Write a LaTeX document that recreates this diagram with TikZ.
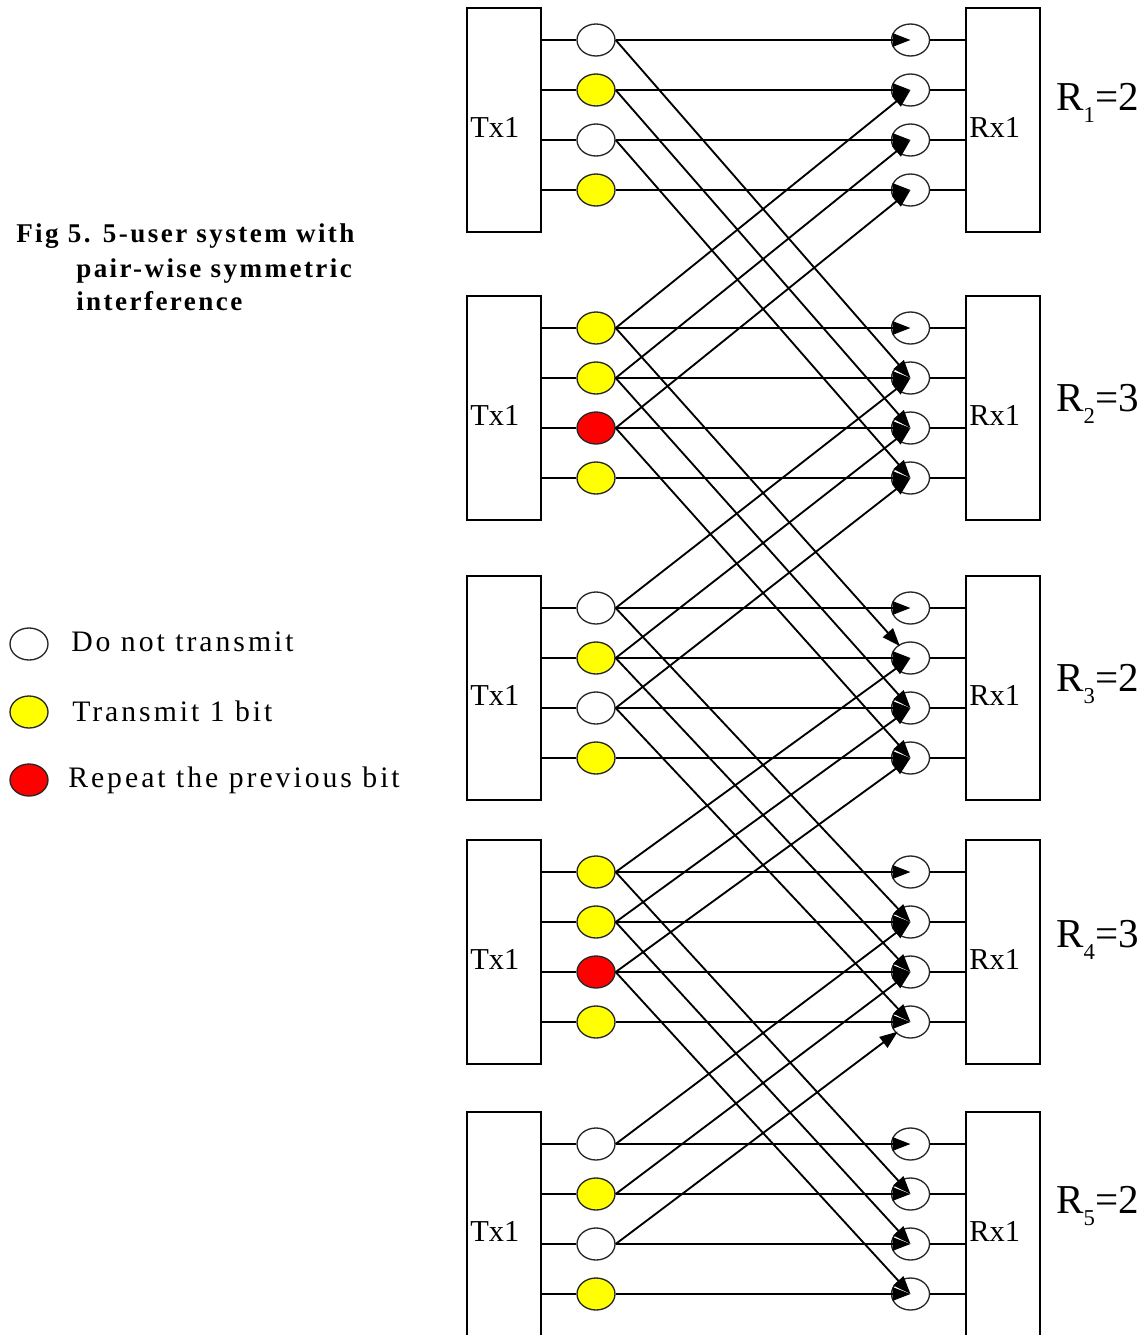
\documentclass[tikz,border=0pt]{standalone}
\usepackage{fontspec}
\setmainfont{Liberation Serif}
\newfontfamily\legfont[LetterSpace=10]{Liberation Serif}
\newfontfamily\capfont[LetterSpace=9]{Liberation Serif}
\usetikzlibrary{arrows.meta,shapes.geometric}
\definecolor{yel}{RGB}{255,255,0}
\definecolor{rd}{RGB}{255,0,0}
\tikzset{
  box/.style={draw, line width=1.5pt, minimum width=55.5pt, minimum height=168pt, inner sep=0pt},
  bit/.style={ellipse, draw=black!85, line width=1pt, minimum width=28.5pt, minimum height=24pt, inner sep=0pt},
  bitoff/.style={bit, fill=white},
  bitone/.style={bit, fill=yel},
  bitrep/.style={bit, fill=rd},
  rcv/.style={bit},
  wire/.style={line width=1.4pt},
  sig/.style={line width=1.4pt, -{Triangle[length=13.5pt,width=10pt]}},
  shortarrow/.style={shorten >=12pt},
  plainarrow/.style={},
  lbl/.style={font=\fontsize{22.8}{26}\selectfont, inner sep=0pt, anchor=base west},
  rate/.style={font=\fontsize{30.8}{33}\selectfont, inner sep=0pt, anchor=base west},
  legtext/.style={font=\legfont\fontsize{22.3}{25}\selectfont, inner sep=0pt, anchor=base west},
  captext/.style={font=\capfont\bfseries\fontsize{20.3}{23}\selectfont, inner sep=0pt, anchor=base west},
}
\begin{document}
\begin{tikzpicture}[x=0.75pt,y=-0.75pt]
\useasboundingbox (0,0) rectangle (1147,1335);
\clip (0,0) rectangle (1147,1335);
\fill[white] (0,0) rectangle (1147,1335);
% caption
\node[captext] (cap1) at (16,242) {Fig 5. 5-user system with};
\node[captext] (cap2) at (76,277) {pair-wise symmetric};
\node[captext] (cap3) at (76,310) {interference};
% legend
\node[bitoff] (lw) at (29,644) {};
\node[bitone] (ly) at (29,712) {};
\node[bitrep] (lr) at (29,780) {};
\node[legtext] (lwt) at (71,651) {Do not transmit};
\node[legtext] (lyt) at (72,721) {Transmit 1 bit};
\node[legtext] (lrt) at (68,787) {Repeat the previous bit};
% blocks
\foreach \k/\tp/\a/\b/\c/\d/\rb/\rv in {1/8/bitoff/bitone/bitoff/bitone/110/2, 2/296/bitone/bitone/bitrep/bitone/411/3, 3/576/bitoff/bitone/bitoff/bitone/691/2, 4/840/bitone/bitone/bitrep/bitone/947/3, 5/1112/bitoff/bitone/bitoff/bitone/1213/2}{
  \node[box] (tx\k) at (504,{\tp+112}) {};
  \node[box] (rx\k) at (1003,{\tp+112}) {};
  \node[lbl] (txl\k) at (470,{\tp+129}) {Tx1};
  \node[lbl] (rxl\k) at (969,{\tp+129}) {Rx1};
  \node[rate] (rate\k) at (1056,\rb) {R\raisebox{-0.3em}{\fontsize{17}{17}\selectfont\k}=\rv};
  \node[\a] (t\k1) at (596,{\tp+32}) {};
  \node[\b] (t\k2) at (596,{\tp+82}) {};
  \node[\c] (t\k3) at (596,{\tp+132}) {};
  \node[\d] (t\k4) at (596,{\tp+182}) {};
  \foreach \r/\o in {1/32,2/82,3/132,4/182}{
    \node[rcv] (q\k\r) at (910.5,{\tp+\o}) {};
  }
}
% wires and direct signals
\foreach \k in {1,...,5}{
  \foreach \r in {1,...,4}{
    \draw[wire] (t\k\r.west) -- (t\k\r.west -| tx\k.east);
    \draw[wire] (q\k\r.east) -- (q\k\r.east -| rx\k.west);
    \draw[sig] (t\k\r.east) -- (q\k\r.center);
  }
}
% interference to the next user
\foreach \s/\e/\o in {t11/q22/plainarrow, t12/q23/plainarrow, t13/q24/plainarrow, t21/q32/shortarrow, t22/q33/plainarrow, t23/q34/plainarrow, t31/q42/plainarrow, t32/q43/plainarrow, t33/q44/plainarrow, t41/q52/plainarrow, t42/q53/plainarrow, t43/q54/plainarrow}{
  \draw[sig,\o] (\s.east) -- (\e.center);
}
% interference to the previous user
\foreach \s/\e/\o in {t21/q12/plainarrow, t22/q13/plainarrow, t23/q14/plainarrow, t31/q22/plainarrow, t32/q23/plainarrow, t33/q24/plainarrow, t41/q32/plainarrow, t42/q33/plainarrow, t43/q34/plainarrow, t51/q42/plainarrow, t52/q43/plainarrow, t53/q44/shortarrow}{
  \draw[sig,\o] (\s.east) -- (\e.center);
}
\end{tikzpicture}
\end{document}
